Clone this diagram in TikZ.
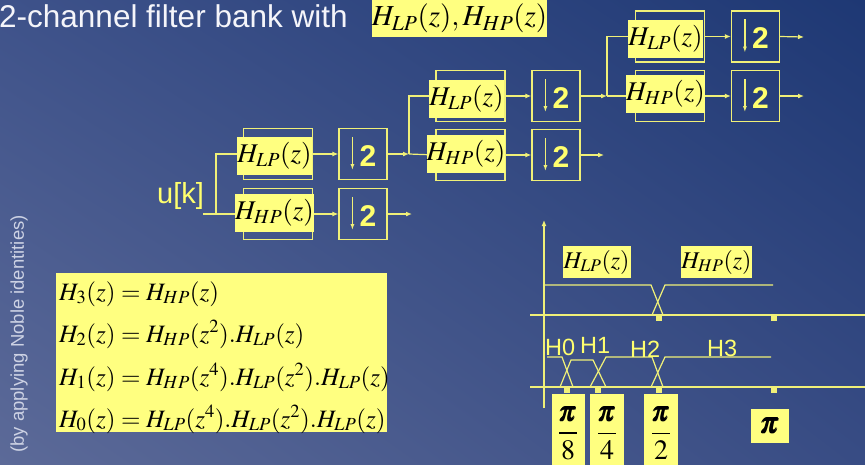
\documentclass[tikz,border=0pt]{standalone}
\usepackage{mathptmx}
\usepackage{amsmath}
\usepackage[no-math]{fontspec}
\setmainfont{Liberation Sans}
\usetikzlibrary{arrows.meta,calc,shadings}
\definecolor{ylw}{RGB}{240,240,120}
\definecolor{ytxt}{RGB}{255,255,110}
\definecolor{lbox}{RGB}{255,255,128}
\definecolor{bgTR}{RGB}{30,56,116}
\definecolor{bgBL}{RGB}{92,106,152}
\definecolor{bgTL}{RGB}{62,82,138}
\definecolor{bgBR}{RGB}{56,76,132}
\definecolor{titlec}{RGB}{245,245,250}
\definecolor{rotc}{RGB}{205,210,228}
\newcommand\dsblock[2]{%
  \node[dsbox] (#1) at (#2) {};
  \draw[dsarr] ($(#1.north west)+(14,9)$) -- ($(#1.south west)+(14,-10)$);
  \node[twotxt] (#1t) at ($(#1.center)+(5,2)$) {2};}
\begin{document}
\begin{tikzpicture}[x=1pt,y=-1pt,
  ln/.style={draw=ylw, line width=1.2pt},
  arr/.style={ln, -{Latex[length=6pt,width=5pt]}},
  dsarr/.style={ln, -{Latex[length=6pt,width=4pt]}},
  outl/.style={draw=ylw, line width=1.2pt, minimum width=69pt, minimum height=51pt, inner sep=0pt},
  dsbox/.style={draw=ylw, line width=1.2pt, minimum width=48pt, minimum height=51pt, inner sep=0pt},
  twotxt/.style={text=ytxt, inner sep=0pt, font=\fontsize{30}{34}\selectfont\bfseries},
  lbl/.style={fill=lbox, text=black, inner sep=0pt, minimum width=73pt, minimum height=38pt, font=\fontsize{27}{30}\selectfont},
  plbl/.style={lbl, minimum width=68pt, minimum height=32pt, font=\fontsize{24}{28}\selectfont},
  fbox/.style={fill=lbox, text=black, inner sep=0pt, minimum width=33pt, minimum height=78pt, font=\fontsize{28}{32}\selectfont},
  eqn/.style={anchor=base west, inner sep=0pt, text=black, font=\fontsize{25}{30}\selectfont},
  htxt/.style={anchor=base west, inner sep=0pt, text=ytxt, font=\fontsize{23.5}{27}\selectfont},
  tick/.style={fill=ylw}
]
\useasboundingbox (0,0) rectangle (865,464);
\shade[upper left=bgTL, upper right=bgTR, lower left=bgBL, lower right=bgBR] (0,0) rectangle (865,464);

% title
\node[anchor=base west, inner sep=0pt, text=titlec, font=\fontsize{31.5}{36}\selectfont] (title) at (-1,27) {2-channel filter bank with};
\node[lbl, minimum width=173pt, minimum height=37pt, font=\fontsize{29}{32}\selectfont] (tf) at (459.5,18.5) {$H_{LP}(z),H_{HP}(z)$};

% rotated note
\node[rotate=90, inner sep=0pt, text=rotc, font=\fontsize{18.5}{22}\selectfont] (note) at (19,334) {(by applying Noble identities)};

% input
\node[anchor=base west, inner sep=0pt, text=ytxt, font=\fontsize{29}{34}\selectfont] (uk) at (157,203) {u[k]};

% ---------- stage 1
\node[outl] (o1) at (278,154) {};
\node[outl] (o2) at (278,214) {};
\coordinate (in) at (203,214);
\coordinate (s1) at (216,154);
\draw[ln] (in) -- (o2.west);
\draw[ln] (in -| s1) -- (s1) -- (o1.west);
\dsblock{d1}{363,154}
\dsblock{d2}{363,214}
\draw[arr] (o1.east) -- (d1.west);
\draw[arr] (o2.east) -- (d2.west);
\coordinate (e2) at (412,214);
\draw[arr] (d2.east) -- (e2);

% ---------- stage 2
\node[outl] (o3) at (470.5,96) {};
\node[outl] (o4) at (470.5,155) {};
\coordinate (s2) at (409,154);
\draw[arr] (d1.east) -- (s2);
\draw[ln] (s2) -- (s2 |- o3.west) -- (o3.west);
\draw[ln] (s2) -- (o4.west);
\dsblock{d3}{556,96}
\dsblock{d4}{556,155}
\draw[arr] (o3.east) -- (d3.west);
\draw[arr] (o4.east) -- (d4.west);
\coordinate (e4) at (604,155);
\draw[arr] (d4.east) -- (e4);

% ---------- stage 3
\node[outl] (o5) at (670,36.5) {};
\node[outl] (o6) at (670,96) {};
\coordinate (s3) at (607,96);
\draw[arr] (d3.east) -- (s3);
\draw[ln] (s3) -- (s3 |- o5.west) -- (o5.west);
\draw[ln] (s3) -- (o6.west);
\dsblock{d5}{755.5,36.5}
\dsblock{d6}{755.5,96}
\draw[arr] (o5.east) -- (d5.west);
\draw[arr] (o6.east) -- (d6.west);
\coordinate (e5) at (804,37);
\coordinate (e6) at (804,96);
\draw[arr] (d5.east) -- (e5);
\draw[arr] (d6.east) -- (e6);

% labels on top
\node[lbl] (l1) at (274.5,156) {$H_{LP}(z)$};
\node[lbl] (l2) at (274.5,213) {$H_{HP}(z)$};
\node[lbl] (l3) at (466.5,98.5) {$H_{LP}(z)$};
\node[lbl] (l4) at (466,154) {$H_{HP}(z)$};
\node[lbl] (l5) at (665.5,38.5) {$H_{LP}(z)$};
\node[lbl] (l6) at (665.5,94) {$H_{HP}(z)$};

% ---------- equations
\node[fill=lbox, minimum width=331pt, minimum height=159pt, inner sep=0pt] (eqb) at (221.5,352.5) {};
\node[eqn] (eq3) at (59,300) {$H_3(z)=H_{HP}(z)$};
\node[eqn] (eq2) at (59,342) {$H_2(z)=H_{HP}(z^2).H_{LP}(z)$};
\node[eqn] (eq1) at (59,385) {$H_1(z)=H_{HP}(z^4).H_{LP}(z^2).H_{LP}(z)$};
\node[eqn] (eq0) at (59,427) {$H_0(z)=H_{LP}(z^4).H_{LP}(z^2).H_{LP}(z)$};

% ---------- frequency plot
\coordinate (O) at (544,408);
\coordinate (Ytop) at (544,220);
\draw[arr] (O) -- (Ytop);
\coordinate (ua) at (530,315); \coordinate (ub) at (865,315);
\coordinate (la) at (530,387); \coordinate (lb) at (865,387);
\draw[ln] (ua) -- (ub);
\draw[ln] (la) -- (lb);
\fill[tick] (656,315) rectangle (662,321);
\fill[tick] (771,315) rectangle (777,321);
\fill[tick] (564,387) rectangle (570,393);
\fill[tick] (595,387) rectangle (601,393);
\fill[tick] (656,387) rectangle (662,393);
\fill[tick] (771,387) rectangle (777,393);
% upper responses
\draw[ln] (543,285) -- (651,285) -- (663,315);
\draw[ln] (652,315) -- (665,285) -- (773,285);
% lower responses
\draw[ln] (547,357) -- (562,357) -- (573,387);
\draw[ln] (560,387) -- (571,360) -- (593,360) -- (606,387);
\draw[ln] (590,387) -- (606,357) -- (652,357) -- (663,387);
\draw[ln] (651,387) -- (665,357) -- (771,357);
\node[plbl] (pl) at (596.5,262) {$H_{LP}(z)$};
\node[plbl] (ph) at (716.5,262) {$H_{HP}(z)$};
\node[htxt] (h0) at (545,355) {H0};
\node[htxt] (h1) at (580,353) {H1};
\node[htxt] (h2) at (630,357) {H2};
\node[htxt] (h3) at (707,356) {H3};
\node[fbox] (f8) at (568,433) {$\dfrac{\pmb{\pi}}{8}$};
\node[fbox, minimum width=34pt] (f4) at (607,433) {$\dfrac{\pmb{\pi}}{4}$};
\node[fbox, minimum width=34pt] (f2) at (661,433) {$\dfrac{\pmb{\pi}}{2}$};
\node[fbox, minimum width=38pt, minimum height=34pt, font=\fontsize{30}{34}\selectfont] (fp) at (770,426) {$\pmb{\pi}$};
\end{tikzpicture}
\end{document}
